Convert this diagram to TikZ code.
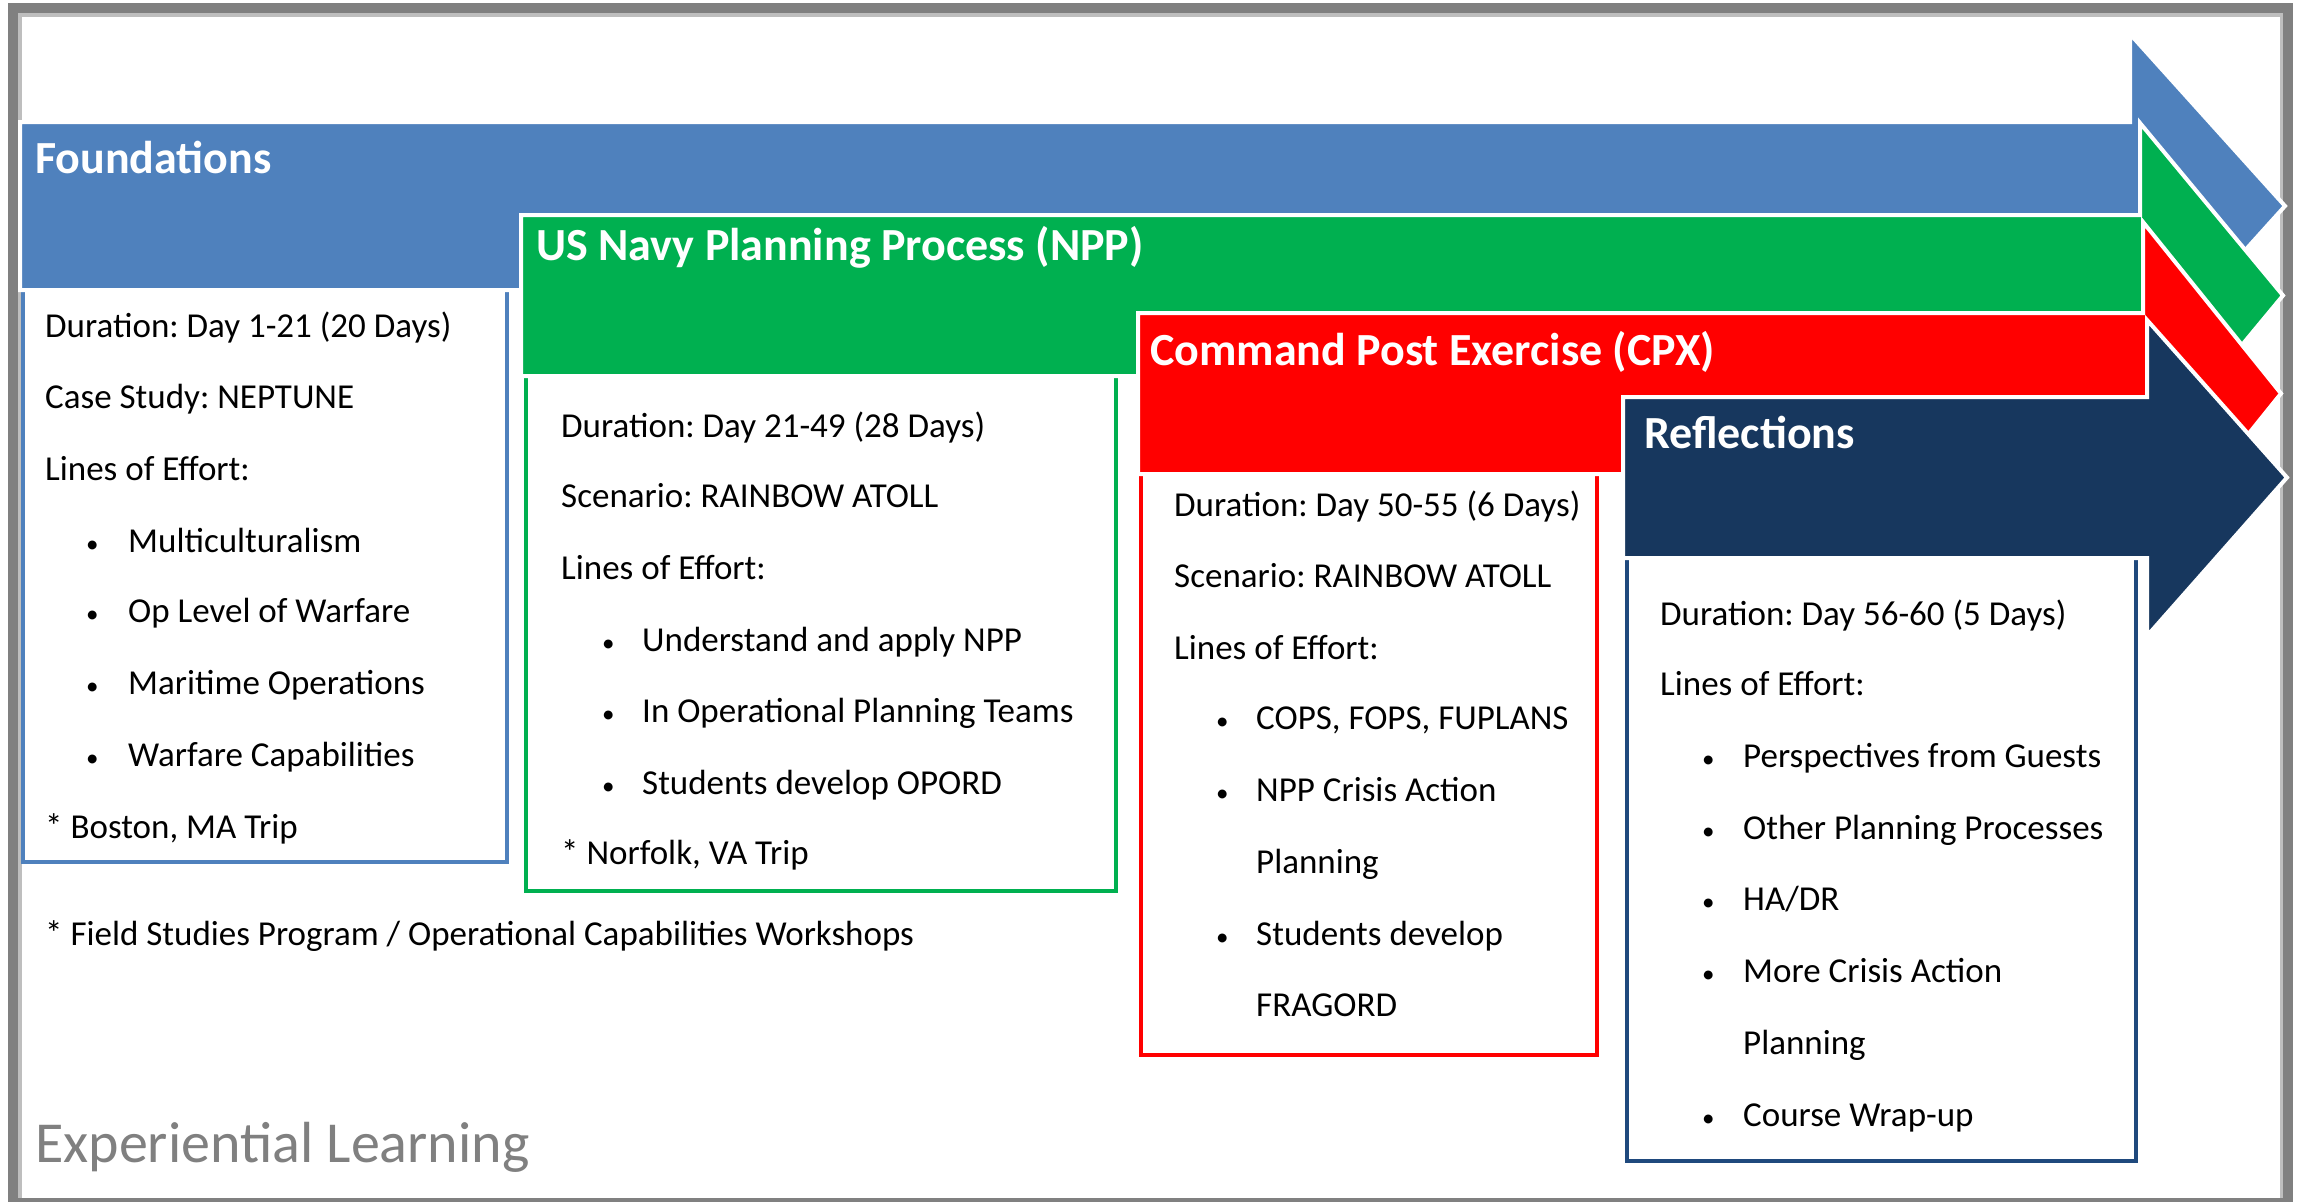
\documentclass[tikz,border=0pt]{standalone}
\usepackage{fontspec}
\setmainfont{Carlito}
\frenchspacing
\definecolor{fblue}{RGB}{79,129,189}
\definecolor{fgreen}{RGB}{0,176,80}
\definecolor{fred}{RGB}{255,0,0}
\definecolor{fnavy}{RGB}{23,55,94}
\definecolor{fnavyline}{RGB}{31,73,125}
\definecolor{framedark}{RGB}{128,128,128}
\definecolor{framelight}{RGB}{190,190,190}
\definecolor{explgray}{RGB}{128,128,128}
\begin{document}
\begin{tikzpicture}[x=1pt,y=-1pt,
  bodytext/.style={anchor=base west, inner sep=0pt, font=\fontsize{35}{42}\selectfont},
  bullettext/.style={anchor=base west, inner sep=0pt, font=\fontsize{25}{30}\selectfont},
  titletext/.style={anchor=base west, inner sep=0pt, text=white, font=\fontsize{46}{55}\selectfont\bfseries},
  phasebox/.style={draw, line width=4pt, fill=white},
  phasearrow/.style={draw=white, line width=4pt, line join=miter}
]
\frenchspacing
\useasboundingbox (0,0) rectangle (2303,1202);
% frame
\fill[framedark] (8,3) rectangle (2293,1210);
\fill[framelight] (18,13) rectangle (2283,1198);
\fill[white] (22,17) rectangle (2280,1198);

% boxes
\draw[phasebox, draw=fblue] (23,280) rectangle (507,862);
\draw[phasebox, draw=fgreen] (526,370) rectangle (1116,891);
\draw[phasebox, draw=fred] (1141,468) rectangle (1597,1055);
\draw[phasebox, draw=fnavyline] (1627,550) rectangle (2136,1161);

% arrows
\path[phasearrow, fill=fblue] (20,122) -- (2130,122) -- (2130,34) -- (2285,206) -- (2130,378) -- (2130,290) -- (20,290) -- cycle;
\path[phasearrow, fill=fgreen] (521,215) -- (2140,215) -- (2140,123) -- (2283,295.5) -- (2140,468) -- (2140,376) -- (521,376) -- cycle;
\path[phasearrow, fill=fred] (1138,313) -- (2143,313) -- (2143,222) -- (2281,393.5) -- (2143,565) -- (2143,474) -- (1138,474) -- cycle;
\path[phasearrow, fill=fnavy] (1623,397) -- (2147,397) -- (2147,320) -- (2287,477.5) -- (2147,636) -- (2147,558) -- (1623,558) -- cycle;

% titles
\node[titletext] (t1) at (35,173) {Foundations};
\node[titletext] (t2) at (536,260) {US Navy Planning Process (NPP)};
\node[titletext] (t3) at (1150,365) {Command Post Exercise (CPX)};
\node[titletext] (t4) at (1644,448) {Reflections};

% Foundations
\node[bodytext] (f1) at (45,337) {Duration: Day 1-21 (20 Days)};
\node[bodytext] (f2) at (45,408) {Case Study: NEPTUNE};
\node[bodytext] (f3) at (45,480) {Lines of Effort:};
\node[bullettext] (fb1) at (86,552) {•};
\node[bodytext] (f4) at (128,552) {Multiculturalism};
\node[bullettext] (fb2) at (86,622) {•};
\node[bodytext] (f5) at (128,622) {Op Level of Warfare};
\node[bullettext] (fb3) at (86,694) {•};
\node[bodytext] (f6) at (128,694) {Maritime Operations};
\node[bullettext] (fb4) at (86,766) {•};
\node[bodytext] (f7) at (128,766) {Warfare Capabilities};
\node[bodytext] (f8) at (45,838) {* Boston, MA Trip};

% NPP
\node[bodytext] (n1) at (561,437) {Duration: Day 21-49 (28 Days)};
\node[bodytext] (n2) at (561,507) {Scenario: RAINBOW ATOLL};
\node[bodytext] (n3) at (561,579) {Lines of Effort:};
\node[bullettext] (nb1) at (602,651) {•};
\node[bodytext] (n4) at (642,651) {Understand and apply NPP};
\node[bullettext] (nb2) at (602,722) {•};
\node[bodytext] (n5) at (642,722) {In Operational Planning Teams};
\node[bullettext] (nb3) at (602,794) {•};
\node[bodytext] (n6) at (642,794) {Students develop OPORD};
\node[bodytext] (n7) at (561,864) {* Norfolk, VA Trip};

% CPX
\node[bodytext] (c1) at (1174,516) {Duration: Day 50-55 (6 Days)};
\node[bodytext] (c2) at (1174,587) {Scenario: RAINBOW ATOLL};
\node[bodytext] (c3) at (1174,659) {Lines of Effort:};
\node[bullettext] (cb1) at (1216,729) {•};
\node[bodytext] (c4) at (1256,729) {COPS, FOPS, FUPLANS};
\node[bullettext] (cb2) at (1216,801) {•};
\node[bodytext] (c5) at (1256,801) {NPP Crisis Action};
\node[bodytext] (c6) at (1256,873) {Planning};
\node[bullettext] (cb3) at (1216,945) {•};
\node[bodytext] (c7) at (1256,945) {Students develop};
\node[bodytext] (c8) at (1256,1016) {FRAGORD};

% Reflections
\node[bodytext] (r1) at (1660,625) {Duration: Day 56-60 (5 Days)};
\node[bodytext] (r2) at (1660,695) {Lines of Effort:};
\node[bullettext] (rb1) at (1702,767) {•};
\node[bodytext] (r3) at (1743,767) {Perspectives from Guests};
\node[bullettext] (rb2) at (1702,839) {•};
\node[bodytext] (r4) at (1743,839) {Other Planning Processes};
\node[bullettext] (rb3) at (1702,910) {•};
\node[bodytext] (r5) at (1743,910) {HA/DR};
\node[bullettext] (rb4) at (1702,982) {•};
\node[bodytext] (r6) at (1743,982) {More Crisis Action};
\node[bodytext] (r7) at (1743,1054) {Planning};
\node[bullettext] (rb5) at (1702,1126) {•};
\node[bodytext] (r8) at (1743,1126) {Course Wrap-up};

% footer
\node[bodytext] (fs) at (45,945) {* Field Studies Program / Operational Capabilities Workshops};
\node[anchor=base west, inner sep=0pt, text=explgray, font=\fontsize{58}{70}\selectfont] (el) at (35,1162) {Experiential Learning};
\end{tikzpicture}
\end{document}
